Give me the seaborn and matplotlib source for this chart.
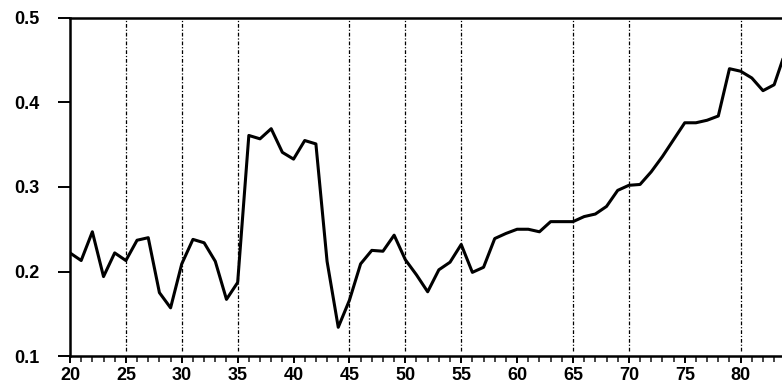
import matplotlib
matplotlib.use("Agg")
import matplotlib.pyplot as plt
from matplotlib.ticker import MultipleLocator, FormatStrFormatter
import numpy as np
import pandas as pd
import seaborn as sns

# Age (years) and the measured ratio at each age
ages = list(range(20, 85))
ratio = [
    0.222, 0.213, 0.247, 0.194, 0.222, 0.213, 0.237, 0.240, 0.175, 0.157,  # 20-29
    0.209, 0.238, 0.234, 0.212, 0.167, 0.187, 0.361, 0.357, 0.369, 0.341,  # 30-39
    0.333, 0.355, 0.351, 0.212, 0.134, 0.166, 0.209, 0.225, 0.224, 0.243,  # 40-49
    0.214, 0.196, 0.176, 0.202, 0.211, 0.232, 0.199, 0.205, 0.239, 0.245,  # 50-59
    0.250, 0.250, 0.247, 0.259, 0.259, 0.259, 0.265, 0.268, 0.277, 0.296,  # 60-69
    0.302, 0.303, 0.318, 0.336, 0.356, 0.376, 0.376, 0.379, 0.384, 0.440,  # 70-79
    0.437, 0.429, 0.414, 0.421, 0.460,                                     # 80-84
]

# Reference ages marked with dash-dot guides
marker_ages = [25, 30, 35, 45, 50, 55, 65, 70, 80]

y_ticks = [0.1, 0.2, 0.3, 0.4, 0.5]
x_ticks = list(range(20, 85, 5))

df = pd.DataFrame({"age": ages, "ratio": ratio})

sns.set_style("ticks")
plt.rcParams["font.family"] = ["Liberation Sans", "DejaVu Sans"]
plt.rcParams["font.weight"] = "bold"

fig = plt.figure(figsize=(7.82, 3.86), dpi=100)
ax = fig.add_axes([0.0895, 0.0777, 0.9105, 0.8757])

for a in marker_ages:
    ax.axvline(a, ymin=0.015, ymax=1.0, color="black", lw=0.9,
               linestyle=(0, (3, 1.5, 1, 1.5)), zorder=1)

sns.lineplot(data=df, x="age", y="ratio", ax=ax, color="black", lw=2.2,
             zorder=3, legend=False)

ax.set_xlim(20, 83.7)
ax.set_ylim(0.1, 0.5)
ax.set_xticks(x_ticks)
ax.xaxis.set_minor_locator(MultipleLocator(1))
ax.set_yticks(y_ticks)
ax.yaxis.set_major_formatter(FormatStrFormatter("%.1f"))
ax.set_xlabel("")
ax.set_ylabel("")

for side in ["top", "left", "bottom"]:
    ax.spines[side].set_visible(True)
    ax.spines[side].set_linewidth(1.8)
    ax.spines[side].set_color("black")
ax.spines["right"].set_visible(False)

ax.tick_params(axis="x", which="major", direction="out", length=5, width=1.4,
               labelsize=13, pad=3, colors="black")
ax.tick_params(axis="x", which="minor", direction="out", length=4, width=1.2)
ax.tick_params(axis="y", which="major", direction="out", length=9, width=1.4,
               labelsize=13, pad=13, colors="black")
for lbl in ax.get_xticklabels() + ax.get_yticklabels():
    lbl.set_fontweight("bold")

fig.savefig("out.png", dpi=100, facecolor="white")
